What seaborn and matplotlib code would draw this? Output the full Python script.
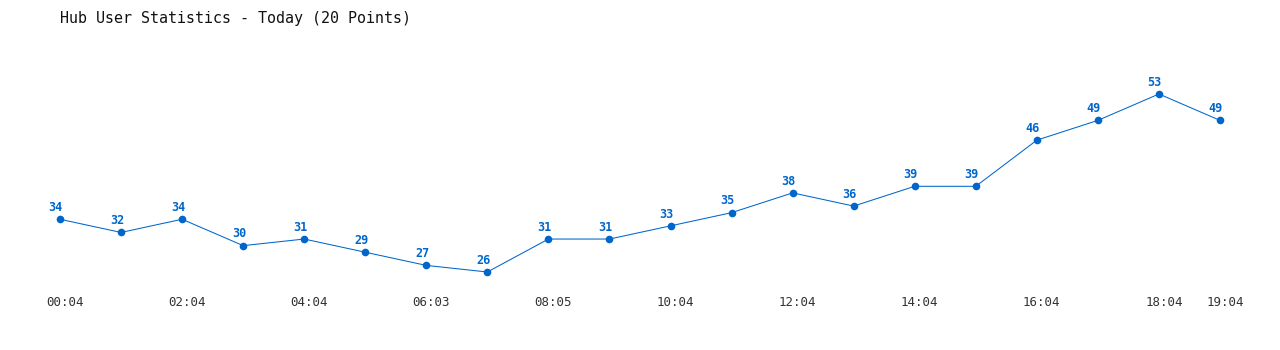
import matplotlib
matplotlib.use("Agg")
import matplotlib.pyplot as plt
import seaborn as sns
import pandas as pd

times = ["00:04", "01:04", "02:04", "03:04", "04:04", "05:04", "06:03", "07:04",
         "08:05", "09:04", "10:04", "11:04", "12:04", "13:04", "14:04", "15:04",
         "16:04", "17:04", "18:04", "19:04"]
users = [34, 32, 34, 30, 31, 29, 27, 26, 31, 31, 33, 35, 38, 36, 39, 39, 46, 49, 53, 49]
tick_idx = [0, 2, 4, 6, 8, 10, 12, 14, 16, 18, 19]
title = "Hub User Statistics - Today (20 Points)"

sns.set_style("white")
plt.rcParams['font.family'] = ['DejaVu Sans Mono', 'DejaVu Sans']

color = "#0066cc"
df = pd.DataFrame({"idx": range(len(users)), "users": users})

fig = plt.figure(figsize=(12.8, 3.5), dpi=100)
W, H = 1280, 350
x0, x1 = 60, 1220
y_top, y_bot = 94, 272
ax = fig.add_axes([x0 / W, (H - y_bot) / H, (x1 - x0) / W, (y_bot - y_top) / H])

sns.lineplot(data=df, x="idx", y="users", ax=ax, color=color, linewidth=0.75,
             marker="o", markersize=5.5, markeredgewidth=0, clip_on=False)
ax.set_xlim(0, len(users) - 1)
ax.set_ylim(min(users), max(users))

for i, v in enumerate(users):
    ax.annotate(str(v), (i, v), xytext=(-3, 3.8), textcoords="offset points",
                ha="center", va="bottom", color=color, fontsize=8.5,
                fontweight="bold", annotation_clip=False)

# time labels below the axis, slightly right of each point
for i in tick_idx:
    ax.annotate(times[i], (i, 0), xycoords=("data", "axes fraction"),
                xytext=(3.5, -22.2), textcoords="offset points",
                ha="center", va="center", fontsize=9, color="#333333",
                annotation_clip=False)

ax.set_xticks([])
ax.set_yticks([])
ax.set_xlabel("")
ax.set_ylabel("")
for s in ax.spines.values():
    s.set_visible(False)
ax.patch.set_alpha(0)

fig.text(60 / W, 1 - 18 / H, title, fontsize=10.8, color="#111111",
         ha="left", va="center")

fig.savefig("out.png", dpi=100, facecolor="white")
